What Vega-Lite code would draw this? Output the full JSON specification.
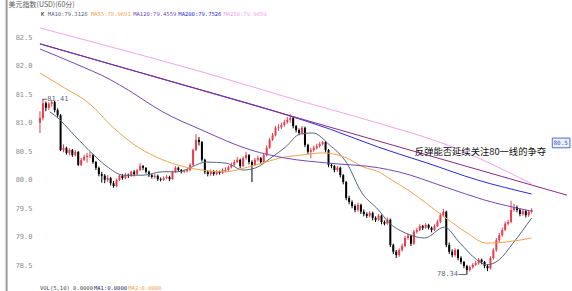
{
  "$schema": "https://vega.github.io/schema/vega-lite/v6.json",
  "autosize": "none",
  "width": 539,
  "height": 261,
  "padding": {"left": 33, "top": 22, "right": 0, "bottom": 8},
  "background": "#ffffff",
  "config": {"view": {"stroke": null}},
  "datasets": {
    "k": [
      {"i":0,"o":81.00,"h":81.20,"l":80.82,"c":81.08},
      {"i":1,"o":81.08,"h":81.41,"l":81.04,"c":81.34},
      {"i":2,"o":81.34,"h":81.37,"l":81.20,"c":81.26},
      {"i":3,"o":81.26,"h":81.36,"l":81.22,"c":81.33},
      {"i":4,"o":81.33,"h":81.40,"l":81.28,"c":81.36},
      {"i":5,"o":81.36,"h":81.38,"l":81.18,"c":81.22},
      {"i":6,"o":81.22,"h":81.25,"l":81.10,"c":81.13},
      {"i":7,"o":81.13,"h":81.15,"l":80.50,"c":80.52},
      {"i":8,"o":80.52,"h":80.62,"l":80.48,"c":80.56},
      {"i":9,"o":80.56,"h":80.58,"l":80.44,"c":80.47},
      {"i":10,"o":80.47,"h":80.55,"l":80.43,"c":80.52},
      {"i":11,"o":80.52,"h":80.54,"l":80.40,"c":80.43},
      {"i":12,"o":80.43,"h":80.52,"l":80.41,"c":80.49},
      {"i":13,"o":80.49,"h":80.50,"l":80.24,"c":80.26},
      {"i":14,"o":80.26,"h":80.38,"l":80.24,"c":80.35},
      {"i":15,"o":80.35,"h":80.44,"l":80.33,"c":80.40},
      {"i":16,"o":80.40,"h":80.47,"l":80.30,"c":80.42},
      {"i":17,"o":80.42,"h":80.49,"l":80.38,"c":80.43},
      {"i":18,"o":80.43,"h":80.45,"l":80.28,"c":80.31},
      {"i":19,"o":80.31,"h":80.33,"l":80.17,"c":80.21},
      {"i":20,"o":80.21,"h":80.23,"l":80.06,"c":80.10},
      {"i":21,"o":80.10,"h":80.14,"l":79.95,"c":80.07},
      {"i":22,"o":80.07,"h":80.10,"l":79.94,"c":80.00},
      {"i":23,"o":80.00,"h":80.08,"l":79.96,"c":80.03},
      {"i":24,"o":80.03,"h":80.05,"l":79.90,"c":79.94},
      {"i":25,"o":79.94,"h":79.98,"l":79.86,"c":79.89},
      {"i":26,"o":79.89,"h":80.02,"l":79.87,"c":80.00},
      {"i":27,"o":80.00,"h":80.09,"l":79.98,"c":80.07},
      {"i":28,"o":80.07,"h":80.10,"l":80.00,"c":80.03},
      {"i":29,"o":80.03,"h":80.12,"l":80.01,"c":80.08},
      {"i":30,"o":80.08,"h":80.11,"l":80.03,"c":80.07},
      {"i":31,"o":80.07,"h":80.16,"l":80.05,"c":80.14},
      {"i":32,"o":80.14,"h":80.17,"l":80.06,"c":80.10},
      {"i":33,"o":80.10,"h":80.19,"l":80.08,"c":80.17},
      {"i":34,"o":80.17,"h":80.29,"l":80.15,"c":80.24},
      {"i":35,"o":80.24,"h":80.26,"l":80.17,"c":80.21},
      {"i":36,"o":80.21,"h":80.22,"l":80.11,"c":80.14},
      {"i":37,"o":80.14,"h":80.16,"l":80.05,"c":80.08},
      {"i":38,"o":80.08,"h":80.10,"l":80.02,"c":80.05},
      {"i":39,"o":80.05,"h":80.10,"l":80.02,"c":80.07},
      {"i":40,"o":80.07,"h":80.09,"l":79.98,"c":80.01},
      {"i":41,"o":80.01,"h":80.04,"l":79.97,"c":80.00},
      {"i":42,"o":80.00,"h":80.06,"l":79.98,"c":80.03},
      {"i":43,"o":80.03,"h":80.08,"l":80.01,"c":80.05},
      {"i":44,"o":80.05,"h":80.07,"l":79.98,"c":80.01},
      {"i":45,"o":80.01,"h":80.16,"l":80.00,"c":80.14},
      {"i":46,"o":80.14,"h":80.24,"l":80.12,"c":80.21},
      {"i":47,"o":80.21,"h":80.23,"l":80.14,"c":80.17},
      {"i":48,"o":80.17,"h":80.19,"l":80.11,"c":80.14},
      {"i":49,"o":80.14,"h":80.18,"l":80.12,"c":80.15},
      {"i":50,"o":80.15,"h":80.20,"l":80.13,"c":80.17},
      {"i":51,"o":80.17,"h":80.29,"l":80.15,"c":80.26},
      {"i":52,"o":80.26,"h":80.55,"l":80.24,"c":80.52},
      {"i":53,"o":80.52,"h":80.80,"l":80.50,"c":80.70},
      {"i":54,"o":80.70,"h":80.75,"l":80.60,"c":80.66},
      {"i":55,"o":80.66,"h":80.68,"l":80.32,"c":80.35},
      {"i":56,"o":80.35,"h":80.37,"l":80.10,"c":80.14},
      {"i":57,"o":80.14,"h":80.17,"l":80.06,"c":80.10},
      {"i":58,"o":80.10,"h":80.18,"l":80.07,"c":80.15},
      {"i":59,"o":80.15,"h":80.17,"l":80.07,"c":80.10},
      {"i":60,"o":80.10,"h":80.17,"l":80.08,"c":80.14},
      {"i":61,"o":80.14,"h":80.16,"l":80.09,"c":80.12},
      {"i":62,"o":80.12,"h":80.20,"l":80.10,"c":80.17},
      {"i":63,"o":80.15,"h":80.22,"l":80.13,"c":80.17},
      {"i":64,"o":80.17,"h":80.25,"l":80.15,"c":80.22},
      {"i":65,"o":80.22,"h":80.30,"l":80.20,"c":80.26},
      {"i":66,"o":80.26,"h":80.35,"l":80.23,"c":80.31},
      {"i":67,"o":80.31,"h":80.40,"l":80.29,"c":80.35},
      {"i":68,"o":80.35,"h":80.37,"l":80.20,"c":80.24},
      {"i":69,"o":80.24,"h":80.41,"l":80.22,"c":80.38},
      {"i":70,"o":80.38,"h":80.49,"l":80.35,"c":80.43},
      {"i":71,"o":80.43,"h":80.45,"l":80.27,"c":80.31},
      {"i":72,"o":80.31,"h":80.34,"l":79.96,"c":80.26},
      {"i":73,"o":80.26,"h":80.38,"l":80.24,"c":80.35},
      {"i":74,"o":80.35,"h":80.42,"l":80.32,"c":80.38},
      {"i":75,"o":80.38,"h":80.40,"l":80.28,"c":80.31},
      {"i":76,"o":80.31,"h":80.46,"l":80.29,"c":80.43},
      {"i":77,"o":80.43,"h":80.60,"l":80.41,"c":80.56},
      {"i":78,"o":80.56,"h":80.73,"l":80.54,"c":80.70},
      {"i":79,"o":80.70,"h":80.82,"l":80.68,"c":80.78},
      {"i":80,"o":80.78,"h":80.94,"l":80.76,"c":80.91},
      {"i":81,"o":80.91,"h":80.97,"l":80.86,"c":80.92},
      {"i":82,"o":80.92,"h":81.00,"l":80.89,"c":80.96},
      {"i":83,"o":80.96,"h":81.05,"l":80.93,"c":81.01},
      {"i":84,"o":81.01,"h":81.10,"l":80.98,"c":81.05},
      {"i":85,"o":81.05,"h":81.15,"l":81.00,"c":81.08},
      {"i":86,"o":81.08,"h":81.10,"l":80.90,"c":80.94},
      {"i":87,"o":80.94,"h":80.96,"l":80.83,"c":80.87},
      {"i":88,"o":80.87,"h":80.90,"l":80.78,"c":80.82},
      {"i":89,"o":80.82,"h":80.94,"l":80.80,"c":80.91},
      {"i":90,"o":80.91,"h":80.93,"l":80.57,"c":80.61},
      {"i":91,"o":80.61,"h":80.63,"l":80.45,"c":80.49},
      {"i":92,"o":80.49,"h":80.56,"l":80.38,"c":80.52},
      {"i":93,"o":80.52,"h":80.60,"l":80.49,"c":80.56},
      {"i":94,"o":80.56,"h":80.63,"l":80.53,"c":80.59},
      {"i":95,"o":80.59,"h":80.66,"l":80.56,"c":80.63},
      {"i":96,"o":80.63,"h":80.68,"l":80.60,"c":80.66},
      {"i":97,"o":80.66,"h":80.68,"l":80.48,"c":80.52},
      {"i":98,"o":80.52,"h":80.54,"l":80.22,"c":80.26},
      {"i":99,"o":80.26,"h":80.29,"l":80.20,"c":80.24},
      {"i":100,"o":80.24,"h":80.26,"l":80.13,"c":80.17},
      {"i":101,"o":80.17,"h":80.24,"l":80.14,"c":80.21},
      {"i":102,"o":80.21,"h":80.23,"l":80.04,"c":80.08},
      {"i":103,"o":80.08,"h":80.10,"l":79.92,"c":79.96},
      {"i":104,"o":79.96,"h":79.98,"l":79.64,"c":79.68},
      {"i":105,"o":79.68,"h":79.72,"l":79.57,"c":79.61},
      {"i":106,"o":79.61,"h":79.64,"l":79.50,"c":79.54},
      {"i":107,"o":79.54,"h":79.57,"l":79.43,"c":79.47},
      {"i":108,"o":79.47,"h":79.60,"l":79.44,"c":79.56},
      {"i":109,"o":79.56,"h":79.58,"l":79.40,"c":79.44},
      {"i":110,"o":79.44,"h":79.48,"l":79.36,"c":79.40},
      {"i":111,"o":79.40,"h":79.43,"l":79.33,"c":79.37},
      {"i":112,"o":79.37,"h":79.45,"l":79.34,"c":79.42},
      {"i":113,"o":79.42,"h":79.44,"l":79.29,"c":79.33},
      {"i":114,"o":79.33,"h":79.36,"l":79.26,"c":79.30},
      {"i":115,"o":79.30,"h":79.40,"l":79.28,"c":79.37},
      {"i":116,"o":79.37,"h":79.39,"l":79.22,"c":79.26},
      {"i":117,"o":79.26,"h":79.29,"l":79.20,"c":79.23},
      {"i":118,"o":79.23,"h":79.34,"l":79.21,"c":79.30},
      {"i":119,"o":79.30,"h":79.32,"l":78.82,"c":78.86},
      {"i":120,"o":78.86,"h":78.88,"l":78.70,"c":78.74},
      {"i":121,"o":78.74,"h":78.77,"l":78.63,"c":78.68},
      {"i":122,"o":78.68,"h":78.80,"l":78.65,"c":78.77},
      {"i":123,"o":78.77,"h":78.88,"l":78.74,"c":78.84},
      {"i":124,"o":78.84,"h":79.02,"l":78.82,"c":78.98},
      {"i":125,"o":78.98,"h":79.06,"l":78.95,"c":79.02},
      {"i":126,"o":79.02,"h":79.04,"l":78.84,"c":78.88},
      {"i":127,"o":78.88,"h":79.12,"l":78.86,"c":79.09},
      {"i":128,"o":79.09,"h":79.16,"l":79.06,"c":79.12},
      {"i":129,"o":79.12,"h":79.22,"l":79.10,"c":79.19},
      {"i":130,"o":79.19,"h":79.21,"l":79.12,"c":79.16},
      {"i":131,"o":79.16,"h":79.24,"l":79.14,"c":79.21},
      {"i":132,"o":79.21,"h":79.23,"l":79.13,"c":79.16},
      {"i":133,"o":79.16,"h":79.18,"l":79.08,"c":79.12},
      {"i":134,"o":79.12,"h":79.22,"l":79.10,"c":79.19},
      {"i":135,"o":79.19,"h":79.30,"l":79.17,"c":79.26},
      {"i":136,"o":79.26,"h":79.42,"l":79.24,"c":79.38},
      {"i":137,"o":79.38,"h":79.49,"l":79.35,"c":79.44},
      {"i":138,"o":79.44,"h":79.46,"l":78.82,"c":78.86},
      {"i":139,"o":78.86,"h":78.90,"l":78.70,"c":78.74},
      {"i":140,"o":78.74,"h":78.78,"l":78.64,"c":78.68},
      {"i":141,"o":78.68,"h":78.80,"l":78.65,"c":78.77},
      {"i":142,"o":78.77,"h":78.79,"l":78.59,"c":78.63},
      {"i":143,"o":78.63,"h":78.66,"l":78.52,"c":78.56},
      {"i":144,"o":78.56,"h":78.58,"l":78.45,"c":78.49},
      {"i":145,"o":78.49,"h":78.51,"l":78.34,"c":78.42},
      {"i":146,"o":78.42,"h":78.50,"l":78.39,"c":78.47},
      {"i":147,"o":78.47,"h":78.54,"l":78.44,"c":78.51},
      {"i":148,"o":78.51,"h":78.58,"l":78.49,"c":78.54},
      {"i":149,"o":78.54,"h":78.63,"l":78.51,"c":78.60},
      {"i":150,"o":78.60,"h":78.62,"l":78.52,"c":78.56},
      {"i":151,"o":78.56,"h":78.58,"l":78.45,"c":78.49},
      {"i":152,"o":78.49,"h":78.52,"l":78.40,"c":78.45},
      {"i":153,"o":78.45,"h":78.66,"l":78.43,"c":78.63},
      {"i":154,"o":78.63,"h":78.80,"l":78.60,"c":78.77},
      {"i":155,"o":78.77,"h":78.98,"l":78.74,"c":78.94},
      {"i":156,"o":78.94,"h":79.07,"l":78.90,"c":79.03},
      {"i":157,"o":79.03,"h":79.16,"l":79.00,"c":79.12},
      {"i":158,"o":79.12,"h":79.27,"l":79.10,"c":79.23},
      {"i":159,"o":79.23,"h":79.30,"l":79.20,"c":79.26},
      {"i":160,"o":79.26,"h":79.63,"l":79.24,"c":79.47},
      {"i":161,"o":79.47,"h":79.58,"l":79.44,"c":79.52},
      {"i":162,"o":79.52,"h":79.55,"l":79.43,"c":79.47},
      {"i":163,"o":79.47,"h":79.50,"l":79.36,"c":79.40},
      {"i":164,"o":79.40,"h":79.48,"l":79.37,"c":79.45},
      {"i":165,"o":79.45,"h":79.47,"l":79.34,"c":79.38},
      {"i":166,"o":79.38,"h":79.47,"l":79.35,"c":79.44},
      {"i":167,"o":79.44,"h":79.50,"l":79.41,"c":79.47}
    ],
    "ma": [
      {"s":"MA10","i":3.33,"v":81.19},
      {"s":"MA10","i":5,"v":81.13},
      {"s":"MA10","i":11.67,"v":80.78},
      {"s":"MA10","i":18.33,"v":80.43},
      {"s":"MA10","i":23.33,"v":80.21},
      {"s":"MA10","i":28.33,"v":80.08},
      {"s":"MA10","i":35,"v":80.08},
      {"s":"MA10","i":41.67,"v":80.14},
      {"s":"MA10","i":46.67,"v":80.14},
      {"s":"MA10","i":56.67,"v":80.31},
      {"s":"MA10","i":63.33,"v":80.29},
      {"s":"MA10","i":69,"v":80.17},
      {"s":"MA10","i":73.33,"v":80.21},
      {"s":"MA10","i":78.33,"v":80.38},
      {"s":"MA10","i":83.33,"v":80.57},
      {"s":"MA10","i":88.33,"v":80.80},
      {"s":"MA10","i":92.67,"v":80.82},
      {"s":"MA10","i":98.33,"v":80.61},
      {"s":"MA10","i":104,"v":80.31},
      {"s":"MA10","i":109.33,"v":79.77},
      {"s":"MA10","i":115,"v":79.47},
      {"s":"MA10","i":118.33,"v":79.26},
      {"s":"MA10","i":124,"v":79.07},
      {"s":"MA10","i":130.67,"v":78.98},
      {"s":"MA10","i":137.33,"v":79.17},
      {"s":"MA10","i":142.67,"v":78.89},
      {"s":"MA10","i":148.33,"v":78.60},
      {"s":"MA10","i":151.67,"v":78.51},
      {"s":"MA10","i":156,"v":78.60},
      {"s":"MA10","i":160.67,"v":78.89},
      {"s":"MA10","i":167,"v":79.33},
      {"s":"MA55","i":0,"v":81.87},
      {"s":"MA55","i":8.33,"v":81.61},
      {"s":"MA55","i":16.67,"v":81.34},
      {"s":"MA55","i":25,"v":80.91},
      {"s":"MA55","i":33.33,"v":80.57},
      {"s":"MA55","i":41.67,"v":80.35},
      {"s":"MA55","i":55,"v":80.17},
      {"s":"MA55","i":62.33,"v":80.14},
      {"s":"MA55","i":73.33,"v":80.26},
      {"s":"MA55","i":83.33,"v":80.40},
      {"s":"MA55","i":88.33,"v":80.43},
      {"s":"MA55","i":96,"v":80.47},
      {"s":"MA55","i":103.33,"v":80.40},
      {"s":"MA55","i":110,"v":80.22},
      {"s":"MA55","i":115,"v":80.14},
      {"s":"MA55","i":119.33,"v":80.00},
      {"s":"MA55","i":125,"v":79.82},
      {"s":"MA55","i":137.33,"v":79.35},
      {"s":"MA55","i":145,"v":79.07},
      {"s":"MA55","i":151.67,"v":78.89},
      {"s":"MA55","i":158.33,"v":78.91},
      {"s":"MA55","i":167,"v":78.98},
      {"s":"MA120","i":0,"v":82.29},
      {"s":"MA120","i":11.67,"v":82.04},
      {"s":"MA120","i":24,"v":81.75},
      {"s":"MA120","i":30,"v":81.57},
      {"s":"MA120","i":41.67,"v":81.19},
      {"s":"MA120","i":55,"v":80.87},
      {"s":"MA120","i":71.67,"v":80.52},
      {"s":"MA120","i":83.33,"v":80.38},
      {"s":"MA120","i":98.33,"v":80.29},
      {"s":"MA120","i":115,"v":80.21},
      {"s":"MA120","i":121.67,"v":80.14},
      {"s":"MA120","i":138.33,"v":79.86},
      {"s":"MA120","i":150.67,"v":79.65},
      {"s":"MA120","i":167,"v":79.45},
      {"s":"MA200","i":0,"v":82.38},
      {"s":"MA200","i":25,"v":82.01},
      {"s":"MA200","i":55,"v":81.57},
      {"s":"MA200","i":81.67,"v":81.17},
      {"s":"MA200","i":98.33,"v":80.89},
      {"s":"MA200","i":115,"v":80.57},
      {"s":"MA200","i":131.67,"v":80.29},
      {"s":"MA200","i":148.33,"v":80.00},
      {"s":"MA200","i":167,"v":79.75},
      {"s":"MA250","i":0,"v":82.66},
      {"s":"MA250","i":21.67,"v":82.36},
      {"s":"MA250","i":55,"v":81.89},
      {"s":"MA250","i":85,"v":81.43},
      {"s":"MA250","i":115,"v":80.99},
      {"s":"MA250","i":138.33,"v":80.61},
      {"s":"MA250","i":167,"v":79.93},
      {"s":"trend","i":0,"v":82.38},
      {"s":"trend","i":179,"v":79.73}
    ],
    "legend": [
      {"i":0.33,"v":82.9,"t":"K","s":"K"},
      {"i":2.67,"v":82.9,"t":"MA10:79.3128","s":"MA10"},
      {"i":17.33,"v":82.9,"t":"MA55:78.9691","s":"MA55"},
      {"i":31.67,"v":82.9,"t":"MA120:79.4559","s":"MA120"},
      {"i":47,"v":82.9,"t":"MA200:79.7526","s":"MA200"},
      {"i":62.33,"v":82.9,"t":"MA250:79.9059","s":"MA250"}
    ],
    "vol": [
      {"i":0,"v":78.056,"t":"VOL(5,10) 0.0000","s":"VOL"},
      {"i":18.33,"v":78.056,"t":"MA1:0.0000","s":"MA1"},
      {"i":30,"v":78.056,"t":"MA2:0.0000","s":"MA2"}
    ]
  },
  "encoding": {
    "x": {"field": "i", "type": "quantitative", "scale": {"domain": [-0.667, 179], "nice": false, "zero": false}, "axis": null},
    "y": {"field": "v", "type": "quantitative", "scale": {"domain": [78.192, 82.763], "nice": false, "zero": false},
      "axis": {"title": null, "ticks": false, "domain": false, "grid": false, "labelPadding": 1, "labelFont": "DejaVu Sans Mono", "labelFontSize": 7, "labelColor": "#8c8c8c", "values": [78.5, 79, 79.5, 80, 80.5, 81, 81.5, 82, 82.5], "format": ".1f"}}
  },
  "layer": [
    {
      "data": {"values": [{"i": -11.33, "v": 83.3, "v2": 77.8}]},
      "mark": {"type": "rule", "color": "#9a9a9a", "strokeWidth": 2},
      "encoding": {"y2": {"field": "v2"}}
    },
    {
      "data": {"name": "k"},
      "mark": {"type": "rule", "strokeWidth": 1},
      "encoding": {
        "y": {"field": "l", "type": "quantitative", "scale": {"domain": [78.192, 82.763], "nice": false, "zero": false},
          "axis": {"title": null, "ticks": false, "domain": false, "grid": false, "labelPadding": 1, "labelFont": "DejaVu Sans Mono", "labelFontSize": 7, "labelColor": "#8c8c8c", "values": [78.5, 79, 79.5, 80, 80.5, 81, 81.5, 82, 82.5], "format": ".1f"}},
        "y2": {"field": "h"},
        "color": {"condition": {"test": "datum.c >= datum.o", "value": "#ee3b4b"}, "value": "#000000"}
      }
    },
    {
      "data": {"name": "k"},
      "mark": {"type": "bar", "width": 2},
      "encoding": {
        "y": {"field": "o", "type": "quantitative", "scale": {"domain": [78.192, 82.763], "nice": false, "zero": false},
          "axis": {"title": null, "ticks": false, "domain": false, "grid": false, "labelPadding": 1, "labelFont": "DejaVu Sans Mono", "labelFontSize": 7, "labelColor": "#8c8c8c", "values": [78.5, 79, 79.5, 80, 80.5, 81, 81.5, 82, 82.5], "format": ".1f"}},
        "y2": {"field": "c"},
        "color": {"condition": {"test": "datum.c >= datum.o", "value": "#ee3b4b"}, "value": "#000000"}
      }
    },
    {
      "data": {"name": "ma"},
      "mark": {"type": "line", "strokeWidth": 1, "interpolate": "monotone"},
      "encoding": {
        "color": {"field": "s", "type": "nominal", "legend": null,
          "scale": {"domain": ["K", "MA10", "MA55", "MA120", "MA200", "MA250", "trend", "VOL", "MA1", "MA2"],
                    "range": ["#000000", "#56647e", "#f2a24e", "#7548b8", "#2a2ae0", "#f3a3f0", "#8e2a86", "#4a4a4a", "#1e2e6e", "#f2a24e"]}}
      }
    },
    {
      "data": {"name": "legend"},
      "mark": {"type": "text", "align": "left", "baseline": "middle", "font": "DejaVu Sans Mono", "fontSize": 5.5},
      "encoding": {"text": {"field": "t"}, "color": {"field": "s", "type": "nominal", "legend": null}}
    },
    {
      "data": {"name": "vol"},
      "mark": {"type": "text", "align": "left", "baseline": "bottom", "font": "DejaVu Sans Mono", "fontSize": 5.5},
      "encoding": {"text": {"field": "t"}, "color": {"field": "s", "type": "nominal", "legend": null}}
    },
    {
      "data": {"values": [{"i": -10.67, "v": 83.06, "t": "美元指数(USD)(60分)"}]},
      "mark": {"type": "text", "align": "left", "baseline": "middle", "font": "Noto Sans CJK SC", "fontSize": 7, "color": "#5a5a5a"},
      "encoding": {"text": {"field": "t"}}
    },
    {
      "data": {"values": [{"i": 0.7, "i2": 2.4, "v": 81.41}, {"i": 142.2, "i2": 145, "v": 78.34}]},
      "mark": {"type": "rule", "color": "#5a6478", "strokeWidth": 1},
      "encoding": {"x2": {"field": "i2"}}
    },
    {
      "data": {"values": [{"i": 2.5, "v": 81.41, "t": "81.41"}]},
      "mark": {"type": "text", "align": "left", "baseline": "middle", "font": "DejaVu Sans Mono", "fontSize": 7, "color": "#5a6478"},
      "encoding": {"text": {"field": "t"}}
    },
    {
      "data": {"values": [{"i": 142, "v": 78.35, "t": "78.34"}]},
      "mark": {"type": "text", "align": "right", "baseline": "middle", "font": "DejaVu Sans Mono", "fontSize": 7, "color": "#5a6478"},
      "encoding": {"text": {"field": "t"}}
    },
    {
      "data": {"values": [{"i": 127.33, "v": 80.48, "t": "反弹能否延续关注80一线的争夺"}]},
      "mark": {"type": "text", "align": "left", "baseline": "middle", "font": "Noto Sans CJK SC", "fontSize": 9.3, "color": "#111111"},
      "encoding": {"text": {"field": "t"}}
    },
    {
      "data": {"values": [{"i": 174, "i2": 180, "v": 80.73, "v2": 80.56}]},
      "mark": {"type": "rect", "fill": "#eef1f8", "stroke": "#4a70c8", "strokeWidth": 1},
      "encoding": {"x2": {"field": "i2"}, "y2": {"field": "v2"}}
    },
    {
      "data": {"values": [{"i": 174.4, "v": 80.645, "t": "80.5"}]},
      "mark": {"type": "text", "align": "left", "baseline": "middle", "font": "DejaVu Sans Mono", "fontSize": 6, "color": "#4060b0"},
      "encoding": {"text": {"field": "t"}}
    }
  ]
}
